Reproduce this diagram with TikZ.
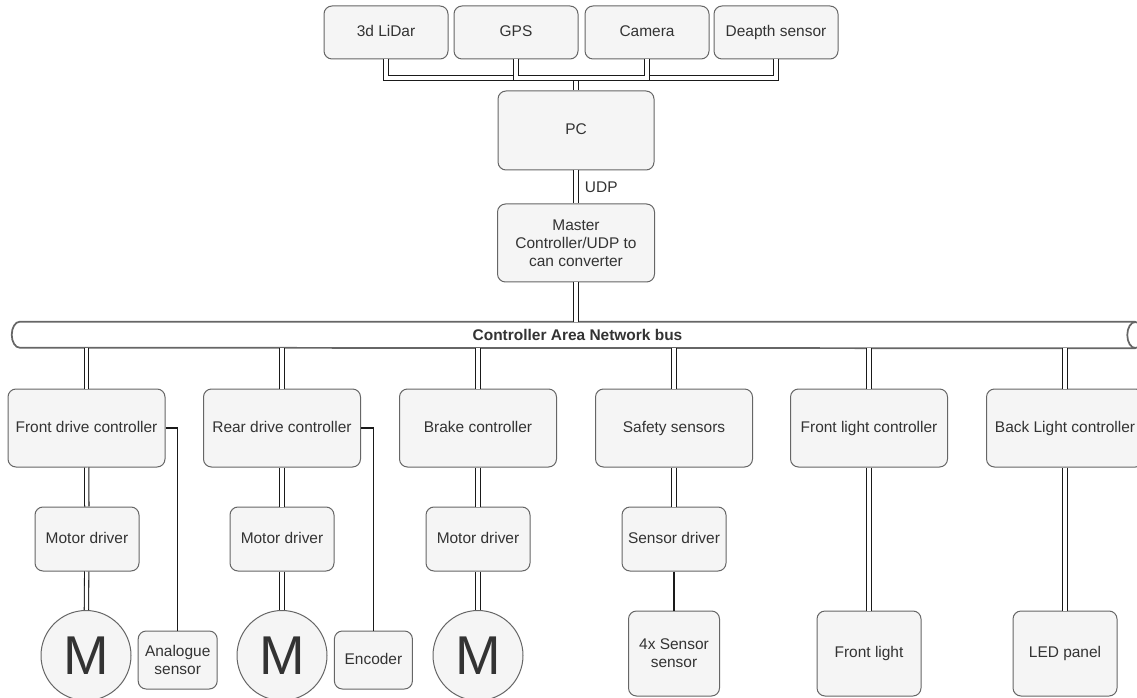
\documentclass[tikz,border=0pt]{standalone}
\usepackage{fontspec}
\setmainfont{Liberation Sans}
\usepackage{xcolor}
\usetikzlibrary{calc}
\definecolor{boxfill}{HTML}{F5F5F5}
\definecolor{boxline}{HTML}{666666}
\definecolor{boxtext}{HTML}{333333}
\definecolor{linkcol}{HTML}{1A1A1A}
\def\ux{0.75pt}
\def\boxfont{\fontsize{11.6}{13.6}\selectfont}
\tikzset{
  box/.style={draw=boxline, fill=boxfill, rounded corners=6pt, line width=0.75pt,
    text=boxtext, align=center, inner sep=0pt, font=\boxfont},
  oneline/.style={text height=8.4pt, text depth=2.4pt},
  ctrl/.style={box, oneline, minimum width=157*\ux, minimum height=78*\ux},
  drv/.style={box, oneline, minimum width=104*\ux, minimum height=64*\ux},
  sense/.style={box, oneline, minimum width=124*\ux, minimum height=53*\ux},
  motor/.style={circle, draw=boxline, fill=boxfill, line width=0.75pt,
    minimum size=90*\ux, inner sep=0pt, text=boxtext, font=\fontsize{41}{41}\selectfont},
  link/.style={draw=linkcol, line width=0.8pt, double=white, double distance=2.4pt},
  wire/.style={draw=linkcol, line width=0.8pt},
  pipe/.style={draw=boxline, line width=1.3pt},
}
\begin{document}
\begin{tikzpicture}[x=0.75pt, y=-0.75pt]
    \useasboundingbox (0,0) rectangle (1137,698);
    \clip (0,0) rectangle (1137,698);
    % sensors and PC
    \node[sense] (lidar) at (386,32.5) {3d LiDar};
    \node[sense] (gps) at (516,32.5) {GPS};
    \node[sense] (camera) at (647,32.5) {Camera};
    \node[sense] (depth) at (776,32.5) {Deapth sensor};
    \node[box, oneline, minimum width=156*\ux, minimum height=79*\ux] (pc) at (576,130.5) {PC};
    \node[box, minimum width=157*\ux, minimum height=78*\ux] (master) at (576,243) {Master\\Controller/UDP to\\can converter};
    \coordinate (sensjoin) at (576,78);
    \draw[link] (lidar.south) |- (sensjoin) -- (pc.north);
    \draw[link] (gps.south) |- (sensjoin);
    \draw[link] (depth.south) |- (sensjoin);
    \draw[link] (camera.south) |- (sensjoin);
    \draw[link] (pc.south) -- (master.north) node[midway, right=3pt, text=boxtext, font=\boxfont] (udp) {UDP};
    % CAN bus
    \node[minimum width=1115*\ux, minimum height=26*\ux, inner sep=0pt, text=boxtext,
      font=\boxfont\bfseries] (can) at (577.5,335) {Controller Area Network bus};
    \draw[pipe] (can.north east) -- (can.north west)
      arc[start angle=90, end angle=270, x radius=6pt, y radius=9.75pt] -- (can.south east);
    \draw[pipe] (can.east) ellipse[x radius=6pt, y radius=9.75pt];
    \draw[link] (master.south) -- (master.south |- can.north);
    % controllers
    \node[ctrl] (frontdrive) at (86.5,428) {Front drive controller};
    \node[ctrl] (reardrive) at (282,428) {Rear drive controller};
    \node[ctrl] (brake) at (478,428) {Brake controller};
    \node[ctrl] (safety) at (674,428) {Safety sensors};
    \node[ctrl] (frontlightctl) at (869,428) {Front light controller};
    \node[ctrl] (backlightctl) at (1065,428) {Back Light controller};
    \foreach \c in {frontdrive, reardrive, brake, safety, frontlightctl, backlightctl}
      \draw[link] (\c.north |- can.south) -- (\c.north);
    % drivers
    \node[drv] (frontdrv) at (87,539) {Motor driver};
    \node[drv] (reardrv) at (282,539) {Motor driver};
    \node[drv] (brakedrv) at (478,539) {Motor driver};
    \node[drv] (sensdrv) at (674,539) {Sensor driver};
    \node[motor] (frontmotor) at (86,655.5) {M};
    \node[motor] (rearmotor) at (282,655.5) {M};
    \node[motor] (brakemotor) at (478,655.5) {M};
    \node[box, minimum width=79*\ux, minimum height=58*\ux] (analogue) at (177.7,660) {Analogue\\sensor};
    \node[box, oneline, minimum width=78*\ux, minimum height=58*\ux] (encoder) at (373.4,660) {Encoder};
    \node[box, minimum width=91*\ux, minimum height=85*\ux] (foursens) at (674,653.5) {4x Sensor\\sensor};
    \node[box, oneline, minimum width=104*\ux, minimum height=85*\ux] (frontlight) at (869,653.5) {Front light};
    \node[box, oneline, minimum width=104*\ux, minimum height=85*\ux] (ledpanel) at (1065,653.5) {LED panel};
    \draw[link] (frontdrive) -- (frontdrv);
    \draw[link] (reardrive) -- (reardrv);
    \draw[link] (brake) -- (brakedrv);
    \draw[link] (safety) -- (sensdrv);
    \draw[link] (frontdrv) -- (frontmotor);
    \draw[link] (reardrv) -- (rearmotor);
    \draw[link] (brakedrv) -- (brakemotor);
    \draw[wire] (sensdrv) -- (foursens);
    \draw[link] (frontlightctl) -- (frontlight);
    \draw[link] (backlightctl) -- (ledpanel);
    \draw[wire] (frontdrive.east) -| (analogue.north);
    \draw[wire] (reardrive.east) -| (encoder.north);
\end{tikzpicture}
\end{document}
